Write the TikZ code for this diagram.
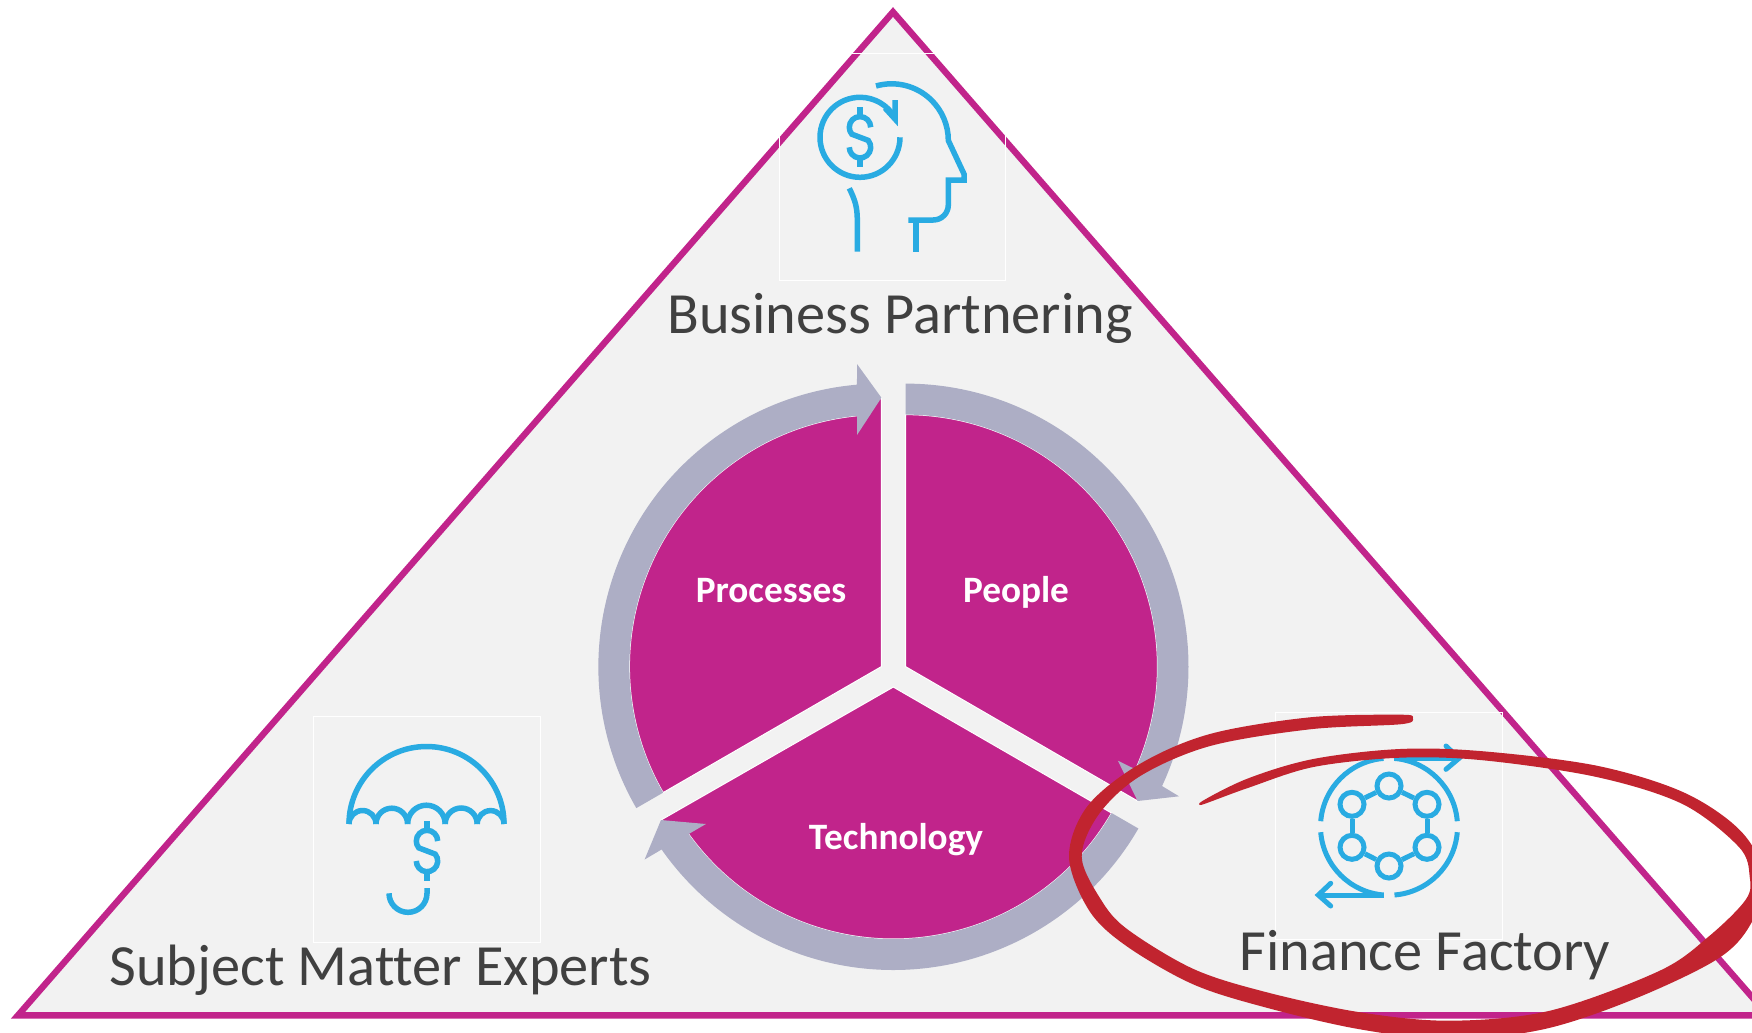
\documentclass[tikz,border=0pt]{standalone}
\usepackage{xcolor}
\usepackage{fontspec}
\setmainfont[Ligatures=NoCommon]{Carlito}
\definecolor{trimagenta}{HTML}{C1248B}
\definecolor{trifill}{HTML}{F2F2F2}
\definecolor{ringgray}{HTML}{ADAEC5}
\definecolor{iconblue}{HTML}{29ABE2}
\definecolor{brushred}{HTML}{C1242F}
\definecolor{labelgray}{HTML}{404040}
\tikzset{
	wedgefill/.style={fill=trimagenta, draw=white, line width=0.3pt},
	ringfill/.style={fill=ringgray},
	iconline/.style={draw=iconblue, line width=0.055cm},
	factoryline/.style={draw=iconblue, line width=0.05cm},
	iconframe/.style={draw=white, line width=0.25pt},
	ringnode/.style={circle, draw=iconblue, fill=trifill, line width=0.05cm, inner sep=0pt, minimum size=0.24cm},
	biglabel/.style={text=labelgray, anchor=base, font=\fontsize{16.6}{17}\selectfont},
	wedgelabel/.style={text=white, anchor=base, font=\fontsize{10.6}{11}\selectfont\bfseries},
	brushstroke/.style={fill=brushred, draw=brushred, line width=0.02cm, line join=round},
	dollarsign/.pic={
		\draw[iconline] (0.107,0.10) arc (0:220:0.107) -- (0.082,-0.031) arc (40:-180:0.107);
		\draw[iconline] (0.00,0.30) -- (0.00,0.20);
		\draw[iconline] (0.00,-0.20) -- (0.00,-0.30);
	}
}

\begin{document}
\begin{tikzpicture}
		\clip (0.00,0.00) rectangle (17.52,10.32);
		\coordinate (cenpeople) at (9.055,3.654);
		\coordinate (cenprocess) at (8.814,3.654);
		\coordinate (centech) at (8.933,3.45);
		% triangle
		\draw[draw=trimagenta, fill=trifill, line width=0.064cm] (0.18,0.167) -- (8.93,10.20) -- (17.68,0.167) -- cycle;
		\draw[iconframe] (7.79,7.52) rectangle (10.05,9.79);
		\draw[iconframe] (3.13,0.90) rectangle (5.40,3.16);
		\draw[iconframe] (12.75,0.93) rectangle (15.02,3.20);
		% wedges
		\draw[wedgefill] (cenpeople) -- ([shift={(cenpeople)}]90:2.52) arc (90:-24.07:2.52) -- (11.376,2.31) -- cycle;
		\draw[wedgefill] (centech) -- ([shift={(centech)}]-30:2.52) arc (-30:-144.3:2.52) -- (6.61,2.12) -- cycle;
		\draw[wedgefill] (cenprocess) -- ([shift={(cenprocess)}]210:2.52) arc (210:95.55:2.52) -- (8.814,6.343) -- cycle;
		% ring arrows
		\fill[ringfill] ([shift={(cenprocess)}]210:2.83) arc (210:94.95:2.83) -- (8.57,6.68) -- (8.814,6.343) -- (8.57,5.97) -- ([shift={(cenprocess)}]95.55:2.52) arc (95.55:210:2.52) -- cycle;
		\fill[ringfill] ([shift={(cenpeople)}]90:2.83) arc (90:-24.96:2.83) -- (11.79,2.357) -- (11.376,2.31) -- (11.179,2.713) -- ([shift={(cenpeople)}]-24.07:2.52) arc (-24.07:90:2.52) -- cycle;
		\fill[ringfill] ([shift={(centech)}]-30:2.83) arc (-30:-144.96:2.83) -- (6.446,1.725) -- (6.61,2.12) -- (7.059,2.08) -- ([shift={(centech)}]-144.3:2.52) arc (-144.3:-30:2.52) -- cycle;
		% head icon
		\draw[iconline] (9.00,8.947) arc (0:-330:0.40);
		\draw[iconline] (8.95,9.32) -- (8.95,9.13) -- (8.85,9.24);
		\pic at (8.60,8.947) {dollarsign};
		\draw[iconline] (8.76,9.46) arc (106:0:0.567) -- (9.64,8.58) -- (9.64,8.52) -- (9.483,8.52) -- (9.483,8.27) arc (0:-90:0.15) -- (9.083,8.12);
		\draw[iconline] (9.16,8.12) -- (9.16,7.803);
		\draw[iconline] (8.493,8.437) .. controls (8.55,8.32) and (8.573,8.25) .. (8.573,8.12) -- (8.573,7.803);
		% umbrella icon
		\draw[iconline] (3.49,2.08) arc (180:0:0.775);
		\draw[iconline] (3.49,2.08) arc (180:0:0.135);
		\draw[iconline] (3.76,2.08) arc (180:0:0.158);
		\draw[iconline] (4.076,2.08) arc (180:0:0.188);
		\draw[iconline] (4.452,2.08) arc (180:0:0.16);
		\draw[iconline] (4.772,2.08) arc (180:0:0.134);
		\pic at (4.27,1.81) {dollarsign};
		\draw[iconline] (4.27,1.44) -- (4.27,1.387) arc (0:-180:0.19);
		% factory icon
		\draw[factoryline] (13.89,2.053) ++(94.6:0.685) arc (94.6:175.4:0.685);
		\draw[factoryline] (13.89,2.053) ++(85.4:0.685) arc (85.4:4.6:0.685);
		\draw[factoryline] (13.89,2.053) ++(184.6:0.685) arc (184.6:265.4:0.685);
		\draw[factoryline] (13.89,2.053) ++(274.6:0.685) arc (274.6:355.4:0.685);
		\draw[factoryline] (13.94,2.737) -- (14.56,2.737);
		\draw[factoryline, line cap=round] (14.46,2.86) -- (14.59,2.737) -- (14.46,2.627);
		\draw[factoryline] (13.835,1.37) -- (13.21,1.37);
		\draw[factoryline, line cap=round] (13.307,1.487) -- (13.183,1.37) -- (13.307,1.26);
		\node[ringnode] (hub1) at (13.89,2.46) {};
		\node[ringnode] (hub2) at (14.27,2.277) {};
		\node[ringnode] (hub3) at (14.27,1.847) {};
		\node[ringnode] (hub4) at (13.89,1.66) {};
		\node[ringnode] (hub5) at (13.52,1.847) {};
		\node[ringnode] (hub6) at (13.52,2.277) {};
		\draw[factoryline] (hub1) -- (hub2);
		\draw[factoryline] (hub2) -- (hub3);
		\draw[factoryline] (hub3) -- (hub4);
		\draw[factoryline] (hub4) -- (hub5);
		\draw[factoryline] (hub5) -- (hub6);
		\draw[factoryline] (hub6) -- (hub1);
		% labels
		\node[biglabel] (partnering) at (9.00,6.99) {Business Partnering};
		\node[biglabel] (experts) at (3.805,0.47) {Subject Matter Experts};
		\node[biglabel] (factory) at (14.25,0.62) {Finance Factory};
		\node[wedgelabel] (processes) at (7.71,4.30) {Processes};
		\node[wedgelabel] (people) at (10.16,4.30) {People};
		\node[wedgelabel] (technology) at (8.96,1.83) {Technology};
		% brush stroke
		\draw[brushstroke] plot[smooth cycle, tension=0.55] coordinates {(12.0,2.28) (12.467,2.52) (13.133,2.72) (14.0,2.82) (14.833,2.797) (15.967,2.653) (16.833,2.387) (17.4,2.003) (17.633,1.553) (17.5,1.087) (17.167,0.737) (16.333,0.337) (15.433,0.037) (14.5,-0.063) (13.6,0.037) (12.667,0.253) (11.933,0.487) (11.267,0.87) (10.9,1.22) (10.7,1.753) (10.883,2.253) (11.4,2.67) (12.1,2.97) (13.1,3.137) (14.0,3.163) (14.117,3.137) (14.0,3.087) (13.1,3.037) (12.1,2.87) (11.4,2.57) (10.983,2.187) (10.807,1.753) (11.0,1.32) (11.267,1.02) (11.933,0.62) (12.667,0.387) (13.6,0.187) (14.5,0.103) (15.5,0.203) (16.6,0.603) (17.1,0.953) (17.467,1.32) (17.507,1.553) (17.4,1.853) (16.833,2.287) (15.967,2.56) (14.833,2.727) (14.0,2.753) (13.133,2.66) (12.467,2.447)};
	\end{tikzpicture}
\end{document}
